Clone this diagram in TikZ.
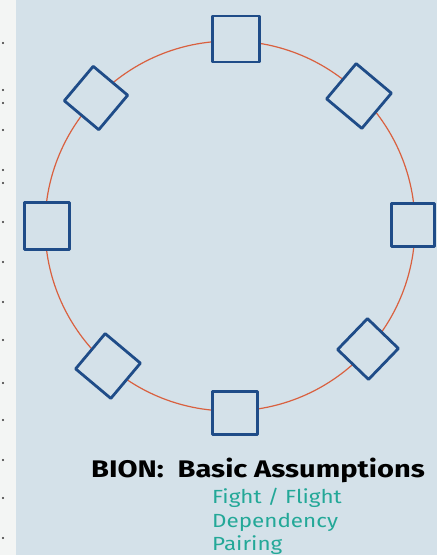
\documentclass[tikz,border=0pt]{standalone}
\usepackage{fontspec}
\setmainfont{Fira Sans}
\definecolor{paperwhite}{HTML}{F3F5F4}
\definecolor{scanblue}{HTML}{D4E1E9}
\definecolor{ringred}{HTML}{D9603F}
\definecolor{inkblue}{HTML}{1F4C88}
\definecolor{inkteal}{HTML}{23A898}
\tikzset{
  ring/.style={draw=ringred, line width=1.2pt},
  seat/.style={draw=inkblue, fill=scanblue, line width=2.8pt, line join=round,
               inner sep=0pt, rectangle},
  title/.style={font=\fontsize{24}{28}\selectfont\bfseries, text=black, inner sep=0pt, xscale=1.21},
  groupname/.style={font=\fontsize{19}{22}\selectfont, text=inkteal, inner sep=0pt, xscale=1.18},
  pagemark/.style={fill=black!80, circle, inner sep=0pt, minimum size=2.2pt}
}
\begin{document}
\begin{tikzpicture}[x=1pt, y=-1pt]
  % page and margin
  \fill[paperwhite] (0,0) rectangle (437,555);
  \fill[scanblue] (16,0) rectangle (437,555);
  \useasboundingbox (0,0) rectangle (437,555);

  % print bleeding from the facing page
  \foreach \yy [count=\i] in {43,90,103,130,170,183,222,262,302,340,383,420,460,498,538}
    \node[pagemark] (mark\i) at (3,\yy) {};

  % the group circle
  \draw[ring] (230,226) circle[radius=185];

  % the eight members
  \node[seat, minimum width=47pt, minimum height=46pt] (top) at (236,39) {};
  \node[seat, minimum size=46pt, rotate=50] (topright) at (359,96) {};
  \node[seat, minimum width=43pt, minimum height=43pt] (right) at (413,225) {};
  \node[seat, minimum size=43pt, rotate=46] (bottomright) at (368,349) {};
  \node[seat, minimum width=45pt, minimum height=43pt] (bottom) at (235,413) {};
  \node[seat, minimum size=46pt, rotate=50] (bottomleft) at (108,366) {};
  \node[seat, minimum width=45pt, minimum height=47pt] (left) at (47,226) {};
  \node[seat, minimum size=45pt, rotate=50] (topleft) at (96,98) {};

  % caption
  \node[title, anchor=base] (caption) at (258,477) {BION:\ \ Basic Assumptions};
  \node[groupname, anchor=base west] (fight) at (212,503) {Fight / Flight};
  \node[groupname, anchor=base west] (dependency) at (212,527) {Dependency};
  \node[groupname, anchor=base west] (pairing) at (212,550) {Pairing};
\end{tikzpicture}
\end{document}
